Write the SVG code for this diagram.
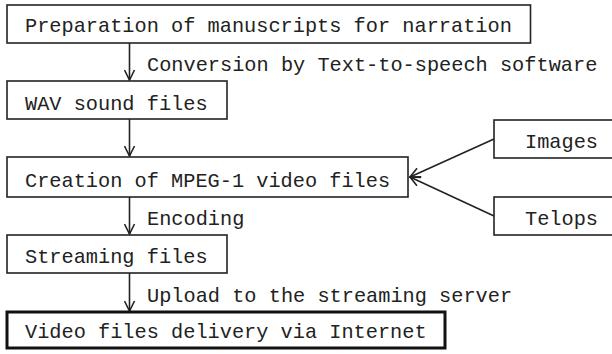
<svg xmlns="http://www.w3.org/2000/svg" width="612" height="354" viewBox="0 0 612 354">
<style>
.box{fill:#fff;stroke:#222;stroke-width:1.6}
.thick{fill:#fff;stroke:#111;stroke-width:3}
text{font-family:"Liberation Mono","DejaVu Sans Mono",monospace;font-size:20.3px;fill:#222}
.conn{stroke:#222;stroke-width:1.6;fill:none}
</style>
<defs>
<marker id="arr" viewBox="0 0 12 12" refX="11" refY="6" markerWidth="12" markerHeight="12" markerUnits="userSpaceOnUse" orient="auto">
<path d="M1,1 L11,6 L1,11" fill="none" stroke="#222" stroke-width="1.6"/>
</marker>
</defs>
<rect width="612" height="354" fill="#fff"/>
<g id="connectors">
<line class="conn" x1="129.5" y1="43" x2="129.5" y2="80" marker-end="url(#arr)"/>
<line class="conn" x1="129.5" y1="119" x2="129.5" y2="156" marker-end="url(#arr)"/>
<line class="conn" x1="129.5" y1="197" x2="129.5" y2="234" marker-end="url(#arr)"/>
<line class="conn" x1="129.5" y1="273" x2="129.5" y2="311" marker-end="url(#arr)"/>
<line class="conn" x1="494" y1="139" x2="410" y2="177" marker-end="url(#arr)"/>
<line class="conn" x1="494" y1="216" x2="410" y2="177" marker-end="url(#arr)"/>
<text x="147" y="71">Conversion by Text-to-speech software</text>
<text x="147" y="225">Encoding</text>
<text x="147" y="302">Upload to the streaming server</text>
</g>
<g id="n1"><rect class="box" x="7" y="5" width="523.5" height="38"/><text x="25" y="32">Preparation of manuscripts for narration</text></g>
<g id="n2"><rect class="box" x="7" y="81" width="220" height="38"/><text x="25" y="110">WAV sound files</text></g>
<g id="n3"><rect class="box" x="7" y="157" width="401" height="40"/><text x="25" y="187">Creation of MPEG-1 video files</text></g>
<g id="n4"><rect class="box" x="7" y="235" width="220" height="38"/><text x="25" y="263">Streaming files</text></g>
<g id="n5"><rect class="thick" x="7" y="312" width="438" height="36"/><text x="25" y="338">Video files delivery via Internet</text></g>
<g id="n6"><rect class="box" x="494" y="120" width="130" height="38"/><text x="525" y="148">Images</text></g>
<g id="n7"><rect class="box" x="494" y="197" width="130" height="38"/><text x="525" y="225">Telops</text></g>
</svg>
